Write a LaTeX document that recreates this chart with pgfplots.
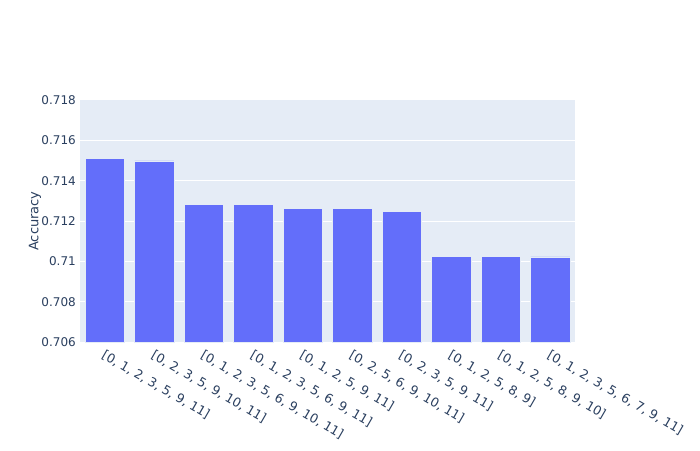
\documentclass[border=0pt]{standalone}
\usepackage{pgfplots}
\pgfplotsset{compat=1.18}
\usepackage{fontspec}
\setmainfont{DejaVu Sans}
\definecolor{plotbg}{HTML}{E5ECF6}
\definecolor{barblue}{HTML}{636EFA}
\definecolor{txt}{HTML}{2A3F5F}
\begin{document}
\begin{tikzpicture}
\fill[white] (0,0) rectangle (700pt,450pt);
\begin{axis}[
  at={(80pt,108pt)}, anchor=south west,
  scale only axis,
  width=495pt, height=242pt,
  axis background/.style={fill=plotbg},
  axis line style={draw=none},
  ybar,
  bar width=39.3pt,
  xmin=-0.5, xmax=9.5,
  ymin=0.706, ymax=0.718,
  ytick={0.706,0.708,0.71,0.712,0.714,0.716,0.718},
  xtick={0,...,9},
  xticklabels={
    {[0, 1, 2, 3, 5, 9, 11]},
    {[0, 2, 3, 5, 9, 10, 11]},
    {[0, 1, 2, 3, 5, 6, 9, 10, 11]},
    {[0, 1, 2, 3, 5, 6, 9, 11]},
    {[0, 1, 2, 5, 9, 11]},
    {[0, 2, 5, 6, 9, 10, 11]},
    {[0, 2, 3, 5, 9, 11]},
    {[0, 1, 2, 5, 8, 9]},
    {[0, 1, 2, 5, 8, 9, 10]},
    {[0, 1, 2, 3, 5, 6, 7, 9, 11]}},
  major tick length=0pt,
  ymajorgrids,
  grid style={white, line width=1pt},
  tick label style={text=txt},
  xticklabel style={font=\fontsize{12.6}{14}\selectfont, inner sep=0pt, xshift=1pt, yshift=-7pt, rotate=-30, anchor=north west},
  yticklabel style={font=\fontsize{12}{14}\selectfont, inner sep=0pt, xshift=-4pt},
  /pgf/number format/fixed,
  /pgf/number format/precision=3,
  /pgf/number format/assume math mode=true,
  ylabel={Accuracy},
  every axis y label/.style={at={(-45pt,121pt)}, rotate=90, anchor=center, font=\fontsize{13}{15}\selectfont, text=txt},
]
\addplot[fill=barblue, draw=plotbg, line width=0.5pt] coordinates {
  (0,0.71511)
  (1,0.71498)
  (2,0.71283)
  (3,0.71283)
  (4,0.71263)
  (5,0.71261)
  (6,0.71248)
  (7,0.71025)
  (8,0.71025)
  (9,0.71022)
};
\end{axis}
\end{tikzpicture}
\end{document}
